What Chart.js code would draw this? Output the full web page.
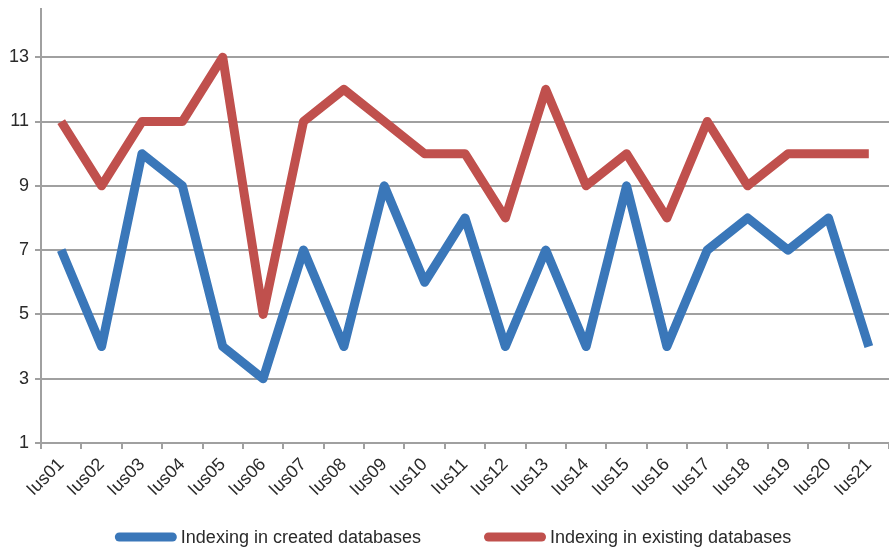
<!DOCTYPE html>
<html>
<head>
<meta charset="utf-8">
<script src="https://cdn.jsdelivr.net/npm/chart.js@4/dist/chart.umd.min.js"></script>
<style>
  html, body { margin: 0; padding: 0; background: #fff; }
  #wrap { width: 889px; height: 548px; }
</style>
</head>
<body>
<div id="wrap"><canvas id="c" width="889" height="548"></canvas></div>
<script>
const categories = ['Ius01','Ius02','Ius03','Ius04','Ius05','Ius06','Ius07','Ius08','Ius09','Ius10','Ius11','Ius12','Ius13','Ius14','Ius15','Ius16','Ius17','Ius18','Ius19','Ius20','Ius21'];
const createdDb = [7,4,10,9,4,3,7,4,9,6,8,4,7,4,9,4,7,8,7,8,4];
const existingDb = [11,9,11,11,13,5,11,12,11,10,10,8,12,9,10,8,11,9,10,10,10];
const yTicks = [1,3,5,7,9,11,13];

const BLUE = '#3a77b9';
const RED = '#c0504d';
const AXIS = '#a0a0a0';
const TEXT = '#2a2a2a';
const FONT = "'Liberation Sans', Arial, sans-serif";

// Bottom legend: rounded line swatch followed by the series name
const lineLegend = {
  id: 'lineLegend',
  afterDraw(chart) {
    const ctx = chart.ctx;
    const swatch = 62, gapText = 4, gapItem = 63;
    ctx.save();
    ctx.font = '18px ' + FONT;
    const items = chart.data.datasets.map(ds => ({ ds, w: ctx.measureText(ds.label).width }));
    const total = items.reduce((s, it) => s + swatch + gapText + it.w, 0) + gapItem * (items.length - 1);
    const ca = chart.chartArea;
    let x = (ca.left + ca.right) / 2 - total / 2 - 12;
    const y = chart.height - 11;
    items.forEach(it => {
      ctx.strokeStyle = it.ds.borderColor;
      ctx.lineWidth = 9;
      ctx.lineCap = 'round';
      ctx.beginPath();
      ctx.moveTo(x + 4.5, y);
      ctx.lineTo(x + swatch - 4.5, y);
      ctx.stroke();
      ctx.fillStyle = TEXT;
      ctx.textBaseline = 'middle';
      ctx.textAlign = 'left';
      ctx.fillText(it.ds.label, x + swatch + gapText, y + 1);
      x += swatch + gapText + it.w + gapItem;
    });
    ctx.restore();
  }
};

new Chart(document.getElementById('c'), {
  type: 'line',
  data: {
    labels: categories,
    datasets: [
      { label: 'Indexing in created databases', data: createdDb, borderColor: BLUE, backgroundColor: BLUE,
        borderWidth: 9, pointRadius: 0, tension: 0, borderJoinStyle: 'round', borderCapStyle: 'butt' },
      { label: 'Indexing in existing databases', data: existingDb, borderColor: RED, backgroundColor: RED,
        borderWidth: 9, pointRadius: 0, tension: 0, borderJoinStyle: 'round', borderCapStyle: 'butt' }
    ]
  },
  plugins: [lineLegend],
  options: {
    responsive: false,
    animation: false,
    layout: { padding: { left: 3, right: 0, top: 9, bottom: 45 } },
    plugins: {
      tooltip: { enabled: false },
      legend: { display: false }
    },
    scales: {
      x: {
        offset: true,
        border: { display: true, color: AXIS, width: 2 },
        grid: { display: true, drawOnChartArea: false, drawTicks: true, offset: true, tickLength: 6, color: AXIS, lineWidth: 2 },
        ticks: { color: TEXT, font: { family: FONT, size: 18 }, maxRotation: 45, minRotation: 45, padding: 5, autoSkip: false },
        afterFit(scale) { scale.height = 60; scale.paddingRight = 0; }
      },
      y: {
        min: 1,
        max: 14.5,
        border: { display: true, color: AXIS, width: 2 },
        grid: { color: AXIS, lineWidth: 2, drawTicks: true, tickLength: 6 },
        afterBuildTicks(axis) { axis.ticks = yTicks.map(v => ({ value: v })); },
        afterFit(scale) { scale.paddingTop = 0; scale.paddingBottom = 0; },
        ticks: { color: TEXT, font: { family: FONT, size: 18 }, padding: 6 }
      }
    }
  }
});
</script>
</body>
</html>
